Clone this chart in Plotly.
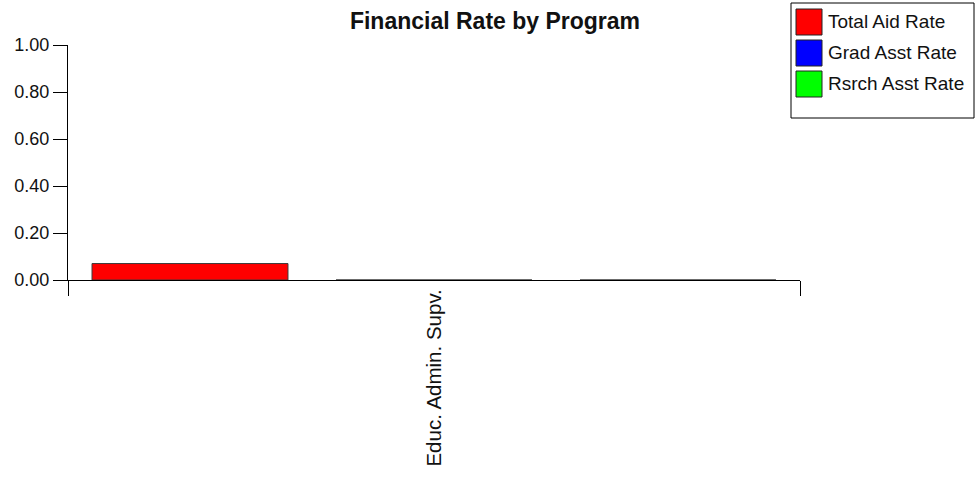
import plotly.graph_objects as go

categories = ["Educ. Admin. Supv."]
series_names = ["Total Aid Rate", "Grad Asst Rate", "Rsrch Asst Rate"]
total_aid_rate = [0.07]
grad_asst_rate = [0.0]
rsrch_asst_rate = [0.0]
series_colors = ["#ff0000", "#0000ff", "#00ff00"]
y_ticks = [0.0, 0.2, 0.4, 0.6, 0.8, 1.0]

FONT = "Arial, Liberation Sans, sans-serif"
W, H = 978, 484
# plot area in page pixels: x 68..800, y 45..280
L, T = 68, 45
R = W - 800
B = H - 280
pw, ph = W - L - R, H - T - B

fig = go.Figure()
for name, vals, col in zip(series_names, [total_aid_rate, grad_asst_rate, rsrch_asst_rate], series_colors):
    fig.add_trace(go.Bar(x=categories, y=vals, name=name, marker_color=col,
                         marker_line=dict(color="#3a3a3a", width=1), showlegend=False))

def px_x(p):  # page x -> paper x
    return (p - L) / pw

def px_y(p):  # page y -> paper y
    return (H - B - p) / ph

shapes = []
annotations = []
shapes.append(dict(type="rect", xref="paper", yref="paper", x0=px_x(791), x1=px_x(974),
                   y0=px_y(118), y1=px_y(3), line=dict(color="black", width=1), fillcolor="white"))
for i, (name, col) in enumerate(zip(series_names, series_colors)):
    top = 9 + i * 31
    shapes.append(dict(type="rect", xref="paper", yref="paper", x0=px_x(796), x1=px_x(822),
                       y0=px_y(top + 26), y1=px_y(top), line=dict(color="#222", width=1), fillcolor=col))
    annotations.append(dict(text=name, xref="paper", yref="paper", x=px_x(826), y=px_y(top + 12),
                            xanchor="left", yanchor="middle", showarrow=False,
                            font=dict(family=FONT, size=19, color="#111")))

fig.update_layout(
    width=W, height=H,
    margin=dict(l=L, r=R, t=T, b=B, pad=0, autoexpand=False),
    paper_bgcolor="white", plot_bgcolor="white",
    title=dict(text="<b>Financial Rate by Program</b>", x=495 / W, xref="container",
               xanchor="center", y=1 - 21 / H, yref="container", yanchor="middle",
               font=dict(family=FONT, size=23, color="#111")),
    barmode="group", bargap=0.0, bargroupgap=0.197,
    showlegend=False,
    shapes=shapes, annotations=annotations,
    xaxis=dict(showline=True, linecolor="black", linewidth=1, ticks="outside", tickson="boundaries",
               ticklen=15, tickcolor="black", tickangle=-90, showgrid=False, zeroline=False,
               automargin=False, tickfont=dict(family=FONT, size=20.5, color="#111")),
    yaxis=dict(range=[0, 1], tickvals=y_ticks, tickformat=".2f", showline=True, linecolor="black",
               linewidth=1, ticks="outside", ticklen=14, tickcolor="black", showgrid=False,
               zeroline=False, automargin=False, tickfont=dict(family=FONT, size=18, color="#111")),
)
fig.write_html("out.html", config={"displayModeBar": False},
               post_script="document.body.style.margin='0';document.body.style.overflow='hidden';")
